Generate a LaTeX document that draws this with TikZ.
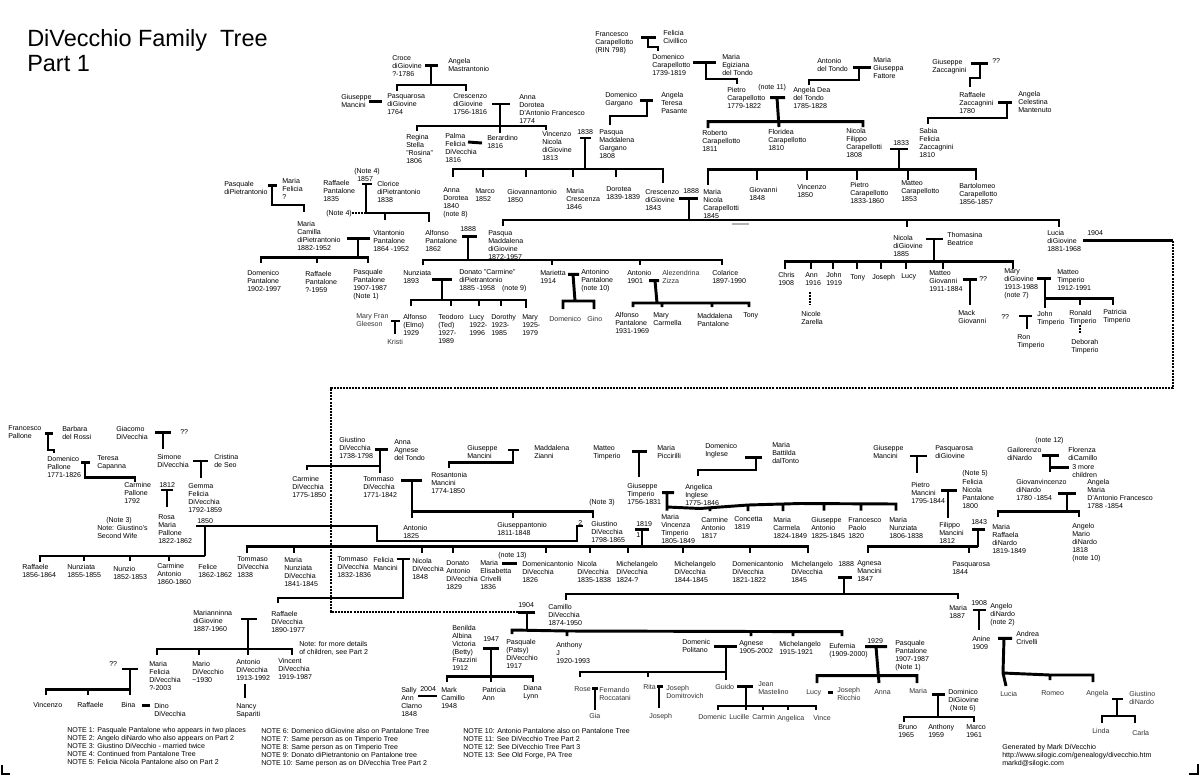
\documentclass[tikz,border=0pt]{standalone}
\usepackage{fontspec}
\setmainfont{Liberation Sans}
\newcommand\tf{\fontsize{5.3pt}{6pt}\selectfont}
\begin{document}
\begin{tikzpicture}[x=0.75pt,y=-0.75pt,
  t/.style={anchor=north west, inner sep=0pt, align=left, font=\tf, yshift=2pt},
  g/.style={t, text=black!80},
  ln/.style={line width=2.2pt, line join=miter},
  dl/.style={line width=2.2pt, dash pattern=on 1.5pt off 0.8pt},
]
\useasboundingbox (0,0) rectangle (1200,776);
\fill[white] (0,0) rectangle (1200,776);
% title
\node[anchor=north west, inner sep=0pt, align=left, font=\fontsize{17.6pt}{19pt}\selectfont] (title) at (27,29) {DiVecchio Family\ \ Tree\\Part 1};
% ---------- top section texts
\node[t] (n1) at (392,58.3) {Croce\\diGiovine\\?-1786};
\node[t] (n2) at (448,60.7) {Angela\\Mastrantonio};
\node[t] (n3) at (341,96.3) {Giuseppe\\Mancini};
\node[t] (n4) at (387,96.3) {Pasquarosa\\diGiovine\\1764};
\node[t] (n5) at (453,96.3) {Crescenzo\\diGiovine\\1756-1816};
\node[t] (n6) at (519,96.7) {Anna\\Dorotea\\D'Antonio Francesco\\1774};
\node[t] (n7) at (406,136.7) {Regina\\Stella\\"Rosina"\\1806};
\node[t] (n8) at (445,136) {Palma\\Felicia\\DiVecchia\\1816};
\node[t] (n9) at (487,137.3) {Berardino\\1816};
\node[t] (n10) at (542,133.3) {Vincenzo\\Nicola\\diGiovine\\1813};
\node[t] (n11) at (577,132.3) {1838};
\node[t] (n12) at (605,95) {Domenico\\Gargano};
\node[t] (n13) at (661,94.7) {Angela\\Teresa\\Pasante};
\node[t] (n14) at (599,131.7) {Pasqua\\Maddalena\\Gargano\\1808};
\node[t] (n15) at (595,33.7) {Francesco\\Carapellotto\\(RIN 798)};
\node[t] (n16) at (663,33) {Felicia\\Civillico};
\node[t] (n17) at (652,57) {Domenico\\Carapellotto\\1739-1819};
\node[t] (n18) at (722,56.7) {Maria\\Egiziana\\del Tondo};
\node[t] (n19) at (727,90) {Pietro\\Carapellotto\\1779-1822};
\node[t] (n20) at (758,86.7) {(note 11)};
\node[t] (n21) at (817,61) {Antonio\\del Tondo};
\node[t] (n22) at (873,59.3) {Maria\\Giuseppa\\Fattore};
\node[t] (n23) at (793,90) {Angela Dea\\del Tondo\\1785-1828};
\node[t] (n24) at (932,61.3) {Giuseppe\\Zaccagnini};
\node[t] (n25) at (992,61) {??};
\node[t] (n26) at (959,95) {Raffaele\\Zaccagnini\\1780};
\node[t] (n27) at (1018,93.7) {Angela\\Celestina\\Mantenuto};
\node[t] (n28) at (919,130.7) {Sabia\\Felicia\\Zaccagnini\\1810};
\node[t] (n29) at (702,132.3) {Roberto\\Carapellotto\\1811};
\node[t] (n30) at (768,132) {Floridea\\Carapellotto\\1810};
\node[t] (n31) at (846,131) {Nicola\\Filippo\\Carapellotti\\1808};
\node[t] (n32) at (893,142.7) {1833};
\node[t] (n33) at (443,190) {Anna\\Dorotea\\1840\\(note 8)};
\node[t] (n34) at (475,190.7) {Marco\\1852};
\node[t] (n35) at (507,191.7) {Giovannantonio\\1850};
\node[t] (n36) at (566,190.7) {Maria\\Crescenza\\1846};
\node[t] (n37) at (606,189.3) {Dorotea\\1839-1839};
\node[t] (n38) at (645,191.7) {Crescenzo\\diGiovine\\1843};
\node[t] (n39) at (683,191) {1888};
\node[t] (n40) at (703,191.7) {Maria\\Nicola\\Carapellotti\\1845};
\node[t] (n41) at (749,190) {Giovanni\\1848};
\node[t] (n42) at (797,186.7) {Vincenzo\\1850};
\node[t] (n43) at (850,185) {Pietro\\Carapellotto\\1833-1860};
\node[t] (n44) at (901,183.3) {Matteo\\Carapellotto\\1853};
\node[t] (n45) at (959,186) {Bartolomeo\\Carapellotto\\1856-1857};
\node[t] (n46) at (224,184) {Pasquale\\diPietrantonio};
\node[t] (n47) at (282,181) {Maria\\Felicia\\?};
\node[t] (n48) at (354,171) {(Note 4)};
\node[t] (n49) at (357,179) {1857};
\node[t] (n50) at (323,182.3) {Raffaele\\Pantalone\\1835};
\node[t] (n51) at (377,183.7) {Clorice\\diPietrantonio\\1838};
\node[t] (n52) at (326,212.7) {(Note 4)};
\node[t] (n53) at (297,223.3) {Maria\\Camilla\\diPietrantonio\\1882-1952};
\node[t] (n54) at (373,232.7) {Vitantonio\\Pantalone\\1864 -1952};
\node[t] (n55) at (425,232.7) {Alfonso\\Pantalone\\1862};
\node[t] (n56) at (460,229.3) {1888};
\node[t] (n57) at (488,232.7) {Pasqua\\Maddalena\\diGiovine\\1872-1957};
\node[t] (n58) at (247,272.7) {Domenico\\Pantalone\\1902-1997};
\node[t] (n59) at (305,273.3) {Raffaele\\Pantalone\\?-1959};
\node[t] (n60) at (353,271.7) {Pasquale\\Pantalone\\1907-1987\\(Note 1)};
\node[t] (n61) at (403,272.7) {Nunziata\\1893};
\node[t] (n62) at (459,271.7) {Donato "Carmine"\\diPietrantonio\\1885 -1958\quad(note 9)};
\node[t] (n63) at (540,272.3) {Marietta\\1914};
\node[t] (n64) at (581,271.7) {Antonino\\Pantalone\\(note 10)};
\node[t] (n65) at (627,272.3) {Antonio\\1901};
\node[g] (n66) at (662,272.3) {Alezendrina\\Zizza};
\node[t] (n67) at (712,272.3) {Colarice\\1897-1990};
\node[g] (n68) at (356,315.7) {Mary Fran\\Gleeson};
\node[g] (n69) at (387,341.7) {Kristi};
\node[t] (n70) at (403,316.7) {Alfonso\\(Elmo)\\1929};
\node[t] (n71) at (438,316.7) {Teodoro\\(Ted)\\1927-\\1989};
\node[t] (n72) at (469,317) {Lucy\\1922-\\1996};
\node[t] (n73) at (491,317) {Dorothy\\1923-\\1985};
\node[t] (n74) at (522,317) {Mary\\1925-\\1979};
\node[g] (n75) at (549,318.3) {Domenico};
\node[g] (n76) at (587,318.3) {Gino};
\node[t] (n77) at (615,314.3) {Alfonso\\Pantalone\\1931-1969};
\node[t] (n78) at (653,315) {Mary\\Carmella};
\node[t] (n79) at (697,316) {Maddalena\\Pantalone};
\node[t] (n80) at (743,315) {Tony};
\node[t] (n81) at (893,237.7) {Nicola\\diGiovine\\1885};
\node[t] (n82) at (947,234.3) {Thomasina\\Beatrice};
\node[t] (n83) at (1047,232.3) {Lucia\\diGiovine\\1881-1968};
\node[t] (n84) at (1087,233.3) {1904};
\node[t] (n85) at (778,275) {Chris\\1908};
\node[t] (n86) at (805,275) {Ann\\1916};
\node[t] (n87) at (826,275) {John\\1919};
\node[t] (n88) at (850,276.7) {Tony};
\node[t] (n89) at (872,276.7) {Joseph};
\node[t] (n90) at (901,276) {Lucy};
\node[t] (n91) at (929,273.3) {Matteo\\Giovanni\\1911-1884};
\node[t] (n92) at (979,279) {??};
\node[t] (n93) at (958,312.3) {Mack\\Giovanni};
\node[t] (n94) at (1004,271) {Mary\\diGiovine\\1913-1988\\(note 7)};
\node[t] (n95) at (1057,272.3) {Matteo\\Timperio\\1912-1991};
\node[t] (n96) at (1037,313.3) {John\\Timperio};
\node[t] (n97) at (1069,312.7) {Ronald\\Timperio};
\node[t] (n98) at (1103,311.7) {Patricia\\Timperio};
\node[t] (n99) at (1001,316.7) {??};
\node[t] (n100) at (1017,337.3) {Ron\\Timperio};
\node[t] (n101) at (1071,341.7) {Deborah\\Timperio};
\node[t] (n102) at (801,313.3) {Nicole\\Zarella};
% ---------- middle section texts
\node[t] (m1) at (8,428.3) {Francesco\\Pallone};
\node[t] (m2) at (62,429) {Barbara\\del Rossi};
\node[t] (m3) at (47,458.3) {Domenico\\Pallone\\1771-1826};
\node[t] (m4) at (97,458.3) {Teresa\\Capanna};
\node[t] (m5) at (124,485) {Carmine\\Pallone\\1792};
\node[t] (m6) at (159,485) {1812};
\node[t] (m7) at (116,428.3) {Giacomo\\DiVecchia};
\node[t] (m8) at (180,431.7) {??};
\node[t] (m9) at (157,456.7) {Simone\\DiVecchia};
\node[t] (m10) at (214,456.7) {Cristina\\de Seo};
\node[t] (m11) at (188,485.7) {Gemma\\Felicia\\DiVecchia\\1792-1859};
\node[t] (m12) at (158,516.7) {Rosa\\Maria\\Pallone\\1822-1862};
\node[t] (m13) at (106,519.3) {(Note 3)};
\node[t] (m14) at (97,527.3) {Note: Giustino's\\Second Wife};
\node[t] (m15) at (197,521) {1850};
\node[t] (m16) at (22,566.7) {Raffaele\\1856-1864};
\node[t] (m17) at (67,566.7) {Nunziata\\1855-1855};
\node[t] (m18) at (113,568.3) {Nunzio\\1852-1853};
\node[t] (m19) at (157,566) {Carmine\\Antonio\\1860-1860};
\node[t] (m20) at (198,566.7) {Felice\\1862-1862};
\node[t] (m21) at (339,440) {Giustino\\DiVecchia\\1738-1798};
\node[t] (m22) at (394,442.3) {Anna\\Agnese\\del Tondo};
\node[t] (m23) at (292,479) {Carmine\\DiVecchia\\1775-1850};
\node[t] (m24) at (363,479) {Tommaso\\DiVecchia\\1771-1842};
\node[t] (m25) at (467,447.7) {Giuseppe\\Mancini};
\node[t] (m26) at (534,447.7) {Maddalena\\Zianni};
\node[t] (m27) at (431,475) {Rosantonia\\Mancini\\1774-1850};
\node[t] (m28) at (403,527.3) {Antonio\\1825};
\node[t] (m29) at (497,524.3) {Giuseppantonio\\1811-1848};
\node[t] (m30) at (589,501.7) {(Note 3)};
\node[t] (m31) at (578,522.7) {2};
\node[t] (m32) at (591,523.3) {Giustino\\DiVecchia\\1798-1865};
\node[t] (m33) at (593,448.3) {Matteo\\Timperio};
\node[t] (m34) at (657,447.3) {Maria\\Piccirilli};
\node[t] (m35) at (627,486) {Giuseppe\\Timperio\\1756-1831};
\node[t] (m36) at (705,445.7) {Domenico\\Inglese};
\node[t] (m37) at (772,445) {Maria\\Battilda\\dalTonto};
\node[t] (m38) at (685,486.7) {Angelica\\Inglese\\1775-1846};
\node[t] (m39) at (636,524) {1819};
\node[t] (m40) at (636,535) {1};
\node[t] (m41) at (661,516.7) {Maria\\Vincenza\\Timperio\\1805-1849};
\node[t] (m42) at (701,519.3) {Carmine\\Antonio\\1817};
\node[t] (m43) at (734,519.3) {Concetta\\1819};
\node[t] (m44) at (773,519.3) {Maria\\Carmela\\1824-1849};
\node[t] (m45) at (811,520) {Giuseppe\\Antonio\\1825-1845};
\node[t] (m46) at (848,520) {Francesco\\Paolo\\1820};
\node[t] (m47) at (889,520) {Maria\\Nunziata\\1806-1838};
\node[t] (m48) at (873,447.7) {Giuseppe\\Mancini};
\node[t] (m49) at (935,447.7) {Pasquarosa\\diGiovine};
\node[t] (m50) at (911,484.3) {Pietro\\Mancini\\1795-1844};
\node[t] (m51) at (962,472.7) {(Note 5)};
\node[t] (m52) at (962,481.7) {Felicia\\Nicola\\Pantalone\\1800};
\node[t] (m53) at (939,524.3) {Filippo\\Mancini\\1812};
\node[t] (m54) at (971,522.3) {1843};
\node[t] (m55) at (992,526.7) {Maria\\Raffaela\\diNardo\\1819-1849};
\node[t] (m56) at (1035,440) {(note 12)};
\node[t] (m57) at (1007,449.3) {Gailorenzo\\diNardo};
\node[t] (m58) at (1068,450) {Florenza\\diCamillo};
\node[t] (m59) at (1072,466.7) {3 more\\children};
\node[t] (m60) at (1016,481.7) {Giovanvincenzo\\diNardo\\1780 -1854};
\node[t] (m61) at (1087,481.7) {Angela\\Maria\\D'Antonio Francesco\\1788 -1854};
\node[t] (m62) at (1072,526) {Angelo\\Mario\\diNardo\\1818\\(note 10)};
\node[t] (m63) at (237,559.3) {Tommaso\\DiVecchia\\1838};
\node[t] (m64) at (284,559.3) {Maria\\Nunziata\\DiVecchia\\1841-1845};
\node[t] (m65) at (337,559.3) {Tommaso\\DiVecchia\\1832-1836};
\node[t] (m66) at (373,559.3) {Felicia\\Mancini};
\node[t] (m67) at (412,560.7) {Nicola\\DiVecchia\\1848};
\node[t] (m68) at (446,562.7) {Donato\\Antonio\\DiVecchia\\1829};
\node[t] (m69) at (498,555) {(note 13)};
\node[t] (m70) at (480,562.7) {Maria\\Elisabetta\\Crivelli\\1836};
\node[t] (m71) at (522,563.3) {Domenicantonio\\DiVecchia\\1826};
\node[t] (m72) at (577,564) {Nicola\\DiVecchia\\1835-1838};
\node[t] (m73) at (616,563.3) {Michelangelo\\DiVecchia\\1824-?};
\node[t] (m74) at (674,563.3) {Michelangelo\\DiVecchia\\1844-1845};
\node[t] (m75) at (732,563.3) {Domenicantonio\\DiVecchia\\1821-1822};
\node[t] (m76) at (791,563.3) {Michelangelo\\DiVecchia\\1845};
\node[t] (m77) at (838,564) {1888};
\node[t] (m78) at (857,563.3) {Agnesa\\Mancini\\1847};
\node[t] (m79) at (952,564) {Pasquarosa\\1844};
% ---------- bottom section texts
\node[t] (b1) at (193,612.3) {Marianninna\\diGiovine\\1887-1960};
\node[t] (b2) at (271,613.3) {Raffaele\\DiVecchia\\1890-1977};
\node[t] (b3) at (299,644) {Note: for more details\\of children, see Part 2};
\node[t] (b4) at (149,663.3) {Maria\\Felicia\\DiVecchia\\?-2003};
\node[t] (b5) at (192,664) {Mario\\DiVecchio\\\textasciitilde1930};
\node[t] (b6) at (236,661.7) {Antonio\\DiVecchia\\1913-1992};
\node[t] (b7) at (278,660.7) {Vincent\\DiVecchia\\1919-1987};
\node[t] (b8) at (236,705.7) {Nancy\\Sapariti};
\node[t] (b9) at (109,664) {??};
\node[t] (b10) at (33,705) {Vincenzo};
\node[t] (b11) at (77,705) {Raffaele};
\node[t] (b12) at (121,705) {Bina};
\node[t] (b13) at (154,705.7) {Dino\\DiVecchia};
\node[t] (b14) at (67,729.3) {NOTE 1: Pasquale Pantalone who appears in two places\\NOTE 2: Angelo diNardo who also appears on Part 2\\NOTE 3: Giustino DiVecchio - married twice\\NOTE 4: Continued from Pantalone Tree\\NOTE 5: Felicia Nicola Pantalone also on Part 2};
\node[t] (b15) at (261,730.7) {NOTE 6: Domenico diGiovine also on Pantalone Tree\\NOTE 7: Same person as on Timperio Tree\\NOTE 8: Same person as on Timperio Tree\\NOTE 9: Donato diPietrantonio on Pantalone tree\\NOTE 10: Same person as on DiVecchia Tree Part 2};
\node[t] (b43) at (463,730.7) {NOTE 10: Antonio Pantalone also on Pantalone Tree\\NOTE 11: See DiVecchio Tree Part 2\\NOTE 12: See DiVecchio Tree Part 3\\NOTE 13: See Old Forge, PA Tree};
\node[t] (b16) at (518,605) {1904};
\node[t] (b17) at (548,606.7) {Camillo\\DiVecchia\\1874-1950};
\node[t] (b18) at (452,627.7) {Benilda\\Albina\\Victoria\\(Betty)\\Frazzini\\1912};
\node[t] (b19) at (483,639.3) {1947};
\node[t] (b20) at (506,641.7) {Pasquale\\(Patsy)\\DiVecchio\\1917};
\node[t] (b21) at (556,644.3) {Anthony\\J\\1920-1993};
\node[t] (b22) at (441,690) {Mark\\Camillo\\1948};
\node[t] (b23) at (482,690) {Patricia\\Ann};
\node[t] (b24) at (523,687.3) {Diana\\Lynn};
\node[t] (b25) at (401,689.3) {Sally\\Ann\\Clarno\\1848};
\node[t] (b26) at (420,689.3) {2004};
\node[t] (b27) at (682,641.7) {Domenic\\Politano};
\node[t] (b28) at (739,643.3) {Agnese\\1905-2002};
\node[t] (b29) at (779,643.3) {Michelangelo\\1915-1921};
\node[g] (b30) at (574,689.3) {Rose};
\node[g] (b31) at (599,690) {Fernando\\Roccatani};
\node[g] (b32) at (589,716) {Gia};
\node[g] (b33) at (643,686.7) {Rita};
\node[g] (b34) at (666,687.3) {Joseph\\Domitrovich};
\node[g] (b35) at (649,715.7) {Joseph};
\node[g] (b36) at (715,686.7) {Guido};
\node[g] (b37) at (758,684) {Jean\\Mastelino};
\node[g] (b38) at (698,716.7) {Domenic};
\node[g] (b39) at (729,716.7) {Lucille};
\node[g] (b40) at (752,716.7) {Carmin};
\node[g] (b41) at (777,717.3) {Angelica};
\node[g] (b42) at (813,717.3) {Vince};
\node[t] (b44) at (949,607.7) {Maria\\1887};
\node[t] (b45) at (971,603.3) {1908};
\node[t] (b46) at (990,605.7) {Angelo\\diNardo\\(note 2)};
\node[t] (b47) at (972,638.3) {Anine\\1909};
\node[t] (b48) at (1016,634) {Andrea\\Crivelli};
\node[g] (b49) at (1000,693.3) {Lucia};
\node[g] (b50) at (1041,692.7) {Romeo};
\node[g] (b51) at (1086,692.3) {Angela};
\node[g] (b52) at (1129,693.3) {Giustino\\diNardo};
\node[g] (b53) at (1092,730.7) {Linda};
\node[g] (b54) at (1132,732.3) {Carla};
\node[t] (b55) at (829,645.7) {Eufemia\\(1909-2000)};
\node[t] (b56) at (867,641) {1929};
\node[t] (b57) at (895,642.3) {Pasquale\\Pantalone\\1907-1987\\(Note 1)};
\node[g] (b58) at (806,692.3) {Lucy};
\node[g] (b59) at (837,689.3) {Joseph\\Ricchio};
\node[g] (b60) at (874,691.7) {Anna};
\node[g] (b61) at (909,691) {Maria};
\node[t] (b62) at (948,691.7) {Dominico\\DiGiovine\\\ (Note 6)};
\node[t] (b63) at (898,726.7) {Bruno\\1965};
\node[t] (b64) at (928,726.7) {Anthony\\1959};
\node[t] (b65) at (966,726.7) {Marco\\1961};
\node[t] (b66) at (1002,746.7) {Generated by Mark DiVecchio\\http://www.silogic.com/genealogy/divecchio.htm\\markd@silogic.com};
% ---------- connectors: top
\draw[ln] (425,65.7)--(438,65.7) (431,65.7)--(431,85) (397,91)--(397,85)--(466,85)--(466,91);
\draw[ln] (369,101.7)--(382,101.7);
\draw[ln] (492,104)--(510,104) (500,104)--(500,133) (417,131)--(417,126)--(546,126)--(546,130);
\draw[ln] (468,142)--(482,143);
\draw[ln] (580,138)--(591,138) (585,138)--(585,169);
\draw[ln] (640,100.7)--(653,100.7) (647,100.7)--(647,116)--(610,116)--(610,125);
\draw[ln] (453,177)--(453,169)--(663,169)--(663,183) (483,169)--(483,177) (526,169)--(526,177) (573,169)--(573,177) (616,169)--(616,177);
\draw[ln] (641,37.7)--(656,37.7) (648,37.7)--(648,47)--(658,47)--(658,51);
\draw[ln] (693,62.7)--(716,62.7) (706,62.7)--(706,79)--(737,79)--(737,84);
\draw[ln] (770,97.7)--(785,97.7) (777,97.7)--(779,127) (708,128)--(708,121.7)--(863,121.7)--(863,127);
\draw[ln] (853,67.7)--(871,67.7) (859,67.7)--(859,80)--(809,80)--(809,85);
\draw[ln] (971,63.3)--(988,63.3) (980,63.3)--(980,78)--(970,78)--(970,87);
\draw[ln] (998,102.3)--(1012,102.3) (1007,102.3)--(1007,118)--(928,118)--(928,124);
\draw[ln] (890,149)--(908,149) (899,149)--(899,169.3) (708,185)--(708,169.3)--(976,169.3)--(976,180) (757,169.3)--(757,180) (807,169.3)--(807,180) (857,169.3)--(857,180) (908,169.3)--(908,180);
\draw[ln] (679,198.3)--(698,198.3) (689,198.3)--(689,220) (503,226)--(503,220)--(1059,220)--(1059,227) (907,220)--(907,227);
\draw[gray!60, line width=0.8pt] (732,224)--(749,224);
\draw[ln] (268,185.3)--(277,185.3) (272,185.3)--(272,205)--(304,205)--(304,211.7);
\draw[ln] (362,184)--(372,184) (366,184)--(366,213)--(429,213)--(429,222) (385,213)--(385,220);
\draw[dl] (352,213)--(366,213);
\draw[ln] (347,238.3)--(370,238.3) (358,238.3)--(358,257.7) (261,263)--(261,257.7)--(368,257.7)--(368,263) (317,257.7)--(317,263);
\draw[ln] (462,236.7)--(477,236.7) (468,236.7)--(468,260) (423,265)--(423,260)--(722,260)--(722,265) (552,260)--(552,265) (640,260)--(640,265);
\draw[ln] (432,279.3)--(452,279.3) (442,279.3)--(442,300) (411,306)--(411,300)--(526,300)--(526,308) (451,300)--(451,306) (479,300)--(479,306) (501,300)--(501,306);
\draw[ln] (568,274.3)--(579,274.3) (573,274.3)--(575,301) (563,309)--(563,301)--(594,301)--(594,309);
\draw[ln] (649,280.7)--(659,280.7) (655,280.7)--(657,303) (633,307)--(633,303)--(749,303)--(749,307) (662,303)--(662,307) (712,303)--(712,307);
\draw[ln] (391,321)--(400,321) (395,321)--(395,334);
\draw[ln] (926,239)--(943,239) (934,239)--(934,261.7) (785,269)--(785,261.7)--(1013,261.7)--(1013,269) (811,261.7)--(811,269) (833,261.7)--(833,269) (857,261.7)--(857,269) (881,261.7)--(881,269) (906,261.7)--(906,269) (943,261.7)--(943,269);
\draw[dl] (810,292)--(810,305);
\draw[ln] (963,279.3)--(977,279.3) (970,279.3)--(970,305);
\draw[ln] (1037,278.7)--(1051,278.7) (1045,278.7)--(1045,308) (1045,298.3)--(1113,298.3)--(1113,305) (1080,298.3)--(1080,305);
\draw[ln] (1019,316)--(1032,316) (1027,316)--(1027,329.3);
\draw[dl] (1080,325)--(1080,333);
\draw[ln] (1083,240.7)--(1173,240.7);
\draw[dl] (1173,240.7)--(1173,388)--(331,388)--(331,612)--(518,612);
% ---------- connectors: middle
\draw[ln] (45,433.3)--(53,433.3) (48,433.3)--(48,450)--(54,450)--(54,453);
\draw[ln] (81,462.7)--(90,462.7) (85,462.7)--(85,477.7)--(135,477.7)--(135,481.7);
\draw[ln] (155,432.3)--(171,432.3) (163,432.3)--(163,449.3);
\draw[ln] (193,461)--(208,461) (201,461)--(201,478.3);
\draw[ln] (161,490)--(173,490) (167,490)--(167,507.3);
\draw[ln] (196,526)--(377,526)--(377,541)--(577,541)--(577,526)--(583,526) (205,526)--(205,556) (40,562)--(40,556)--(205,556) (84,556)--(84,561) (130,556)--(130,561) (169,556)--(169,561);
\draw[ln] (375,449.3)--(388,449.3) (380,449.3)--(380,472.7) (307,470)--(307,466)--(380,466);
\draw[ln] (401,480.7)--(422,480.7) (412,480.7)--(412,518) (412,511.7)--(593,511.7)--(593,518.3) (513,511.7)--(513,518.3);
\draw[ln] (508,450)--(519,450) (513,450)--(513,462.7)--(449,462.7)--(449,468.3);
\draw[ln] (632,451.7)--(647,451.7) (639,451.7)--(639,477.3);
\draw[ln] (745,457.7)--(762,457.7) (756,457.7)--(756,470)--(698,470)--(698,476);
\draw[ln] (662,492.7)--(674,492.7) (667,492.7)--(667,510.7) (667,507)--(700,508.5)--(748,505)--(800,503.5)--(896,504)--(896,510.7) (710,508)--(710,511) (748,505)--(748,511) (783,504)--(783,511) (824,504)--(824,510.7) (861,504)--(861,510.7);
\draw[ln] (635,529.3)--(649,529.3) (642,529.3)--(642,546.7);
\draw[ln] (247,553)--(247,546.7)--(808,546.7)--(808,553) (294,546.7)--(294,553) (422,546.7)--(422,553) (453,546.7)--(453,553) (546,546.7)--(546,553) (590,546.7)--(590,553) (628,546.7)--(628,553) (683,546.7)--(683,553) (750,546.7)--(750,553);
\draw[ln] (397,559)--(410,559) (403,559)--(403,598)--(278,598)--(278,603);
\draw[ln] (502,563.3)--(517,563.3);
\draw[ln] (838,577.3)--(852,577.3) (844,577.3)--(844,594) (566,600)--(566,594)--(958,594)--(958,599);
\draw[ln] (910,456)--(927,456) (917,456)--(917,473.3);
\draw[ln] (941,490.7)--(957,490.7) (948,490.7)--(948,518.3);
\draw[ln] (972,529.3)--(985,529.3) (978,529.3)--(978,546.7) (868,553)--(868,546.7)--(978,546.7) (969,546.7)--(969,553);
\draw[ln] (1042,455.7)--(1059,455.7) (1050,455.7)--(1050,471.7) (1050,467.7)--(1069,467.7);
\draw[ln] (1058,493.3)--(1076,493.3) (1067,493.3)--(1067,511.7) (998,517.3)--(998,511.7)--(1079,511.7)--(1079,517.3);
% ---------- connectors: bottom
\draw[ln] (241,619)--(257,619) (248,619)--(248,655) (157,655)--(157,649)--(292,649)--(292,655) (199,649)--(199,655);
\draw[ln] (245,684)--(245,698.3);
\draw[ln] (122,669)--(138,669) (130,669)--(130,695) (46,695)--(46,689.3)--(130,689.3) (88,689.3)--(88,695);
\draw[ln] (142,705.7)--(150,705.7);
\draw[ln] (518,612.3)--(535,612.3) (527,612.3)--(527,630);
\draw[ln] (512,634)--(512,630)--(567,631)--(842,631.7)--(842,636) (567,631)--(567,636) (751,631.5)--(751,636) (793,631.6)--(793,636);
\draw[ln] (483,648.3)--(499,648.3) (491,648.3)--(491,682) (447,682)--(447,676.7)--(533,676.7)--(533,682);
\draw[ln] (418,696)--(437,696);
\draw[ln] (714,646.7)--(737,646.7) (726,646.7)--(726,680) (580,677)--(580,672)--(726,672) (648,672)--(648,677);
\draw[ln] (592,688.7)--(598,688.7) (595,688.7)--(595,710);
\draw[ln] (657,686.7)--(663,686.7) (659,686.7)--(659,708.3);
\draw[ln] (737,686.7)--(753,686.7) (746,686.7)--(746,710) (718,710)--(718,706)--(816,706)--(816,710) (763,706)--(763,710) (788,706)--(788,710);
\draw[ln] (973,610)--(986,610) (979,610)--(979,630);
\draw[ln] (998,638.3)--(1012,638.3) (1004,638.3)--(1003,673)--(1006,686) (1003,673)--(1050,675)--(1093,675)--(1093,682) (1050,675)--(1050,680);
\draw[ln] (1112,699)--(1123,699) (1117,699)--(1117,716) (1102,723)--(1102,716)--(1135,716)--(1135,723);
\draw[ln] (865,646.7)--(887,646.7) (876,646.7)--(879,683) (817,683)--(817,675.7)--(917,675.7)--(917,683);
\draw[ln] (828,692.3)--(833,692.3);
\draw[ln] (932,694.3)--(945,694.3) (938,694.3)--(938,717) (904,722)--(904,717)--(974,717)--(974,722);
% corner marks
\draw[ln] (2,765)--(2,774)--(10,774);
\draw[ln] (1189,774)--(1198,774)--(1198,764);
\end{tikzpicture}
\end{document}
